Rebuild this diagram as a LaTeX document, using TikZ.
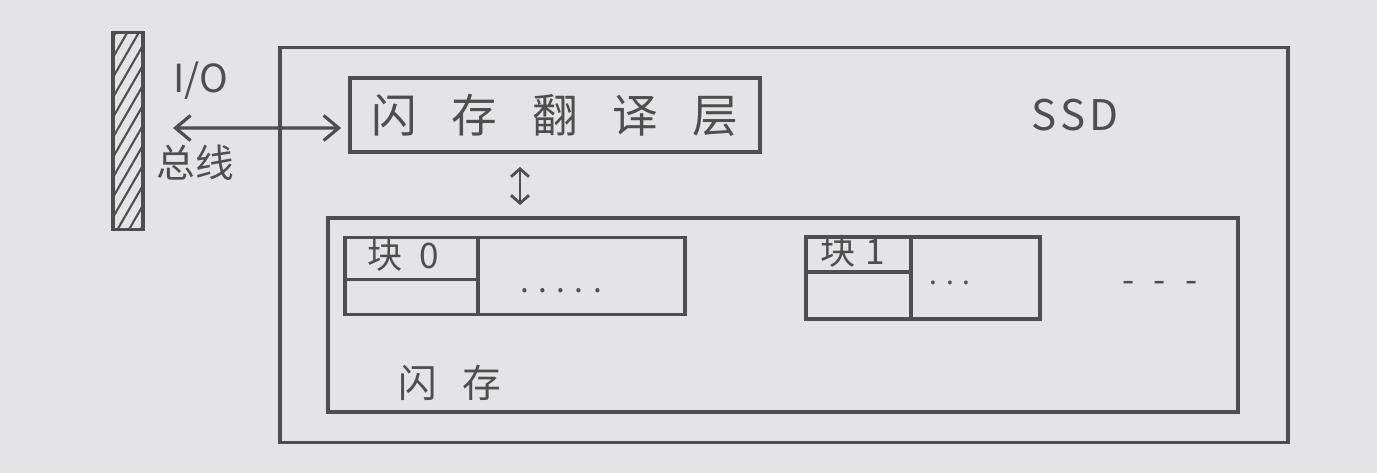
\documentclass[tikz,border=0pt]{standalone}
\usepackage{fontspec}
\setmainfont{Noto Sans CJK SC}
\usetikzlibrary{positioning,arrows.meta,patterns.meta}
\definecolor{paper}{RGB}{228,228,230}
\definecolor{pencil}{RGB}{78,78,78}
\newcommand{\chgap}[1]{\hspace{#1}}
\tikzset {
    style box/.style={
        draw=pencil,
        line width=2.2pt,
        rectangle, % plain frame
        inner sep=0pt,
        align=center,
    },
    style line/.style={
        draw=pencil,
        line width=2.2pt,
    },
    style text/.style={
        text=pencil,
        inner sep=0pt,
    },
    style arrow/.style={
        draw=pencil,
        line width=1.8pt,
        arrows={Straight Barb[length=3mm,width=5mm]-Straight Barb[length=3mm,width=5mm]},
    },
    style arrow small/.style={
        draw=pencil,
        line width=1.6pt,
        arrows={Straight Barb[length=1.6mm,width=3.6mm]-Straight Barb[length=1.6mm,width=3.6mm]},
    },
}
\begin{document}
\begin{tikzpicture}
        [x=0.02cm, y=-0.02cm, font=\fontsize{20}{24}\selectfont]

        \fill[paper] (0,0) rectangle (1377,473);

        % bus
        \node[style box, minimum width=0.6cm, minimum height=3.94cm,
            pattern={Lines[angle=60,distance=0.2cm,line width=1.2pt]}, pattern color=pencil] (bus) at (128,131) {};
        \node[style text, font=\fontsize{22}{26}\selectfont] (io) at (201,81) {I/O};
        \node[style text, font=\fontsize{22}{26}\selectfont] (bustext) at (195,163) {总线};

        % SSD
        \node[style box, minimum width=20.16cm, minimum height=7.9cm] (ssd) at (784,245) {};
        \node[style text, font=\fontsize{24}{28}\selectfont] (ssdtext) at (1075,115) {S\chgap{0.08cm}S\chgap{0.08cm}D};

        \node[style box, minimum width=8.2cm, minimum height=1.48cm, text=pencil,
            font=\fontsize{26}{30}\selectfont] (ftl) at (555,115)
            {闪\chgap{0.69cm}存\chgap{0.69cm}翻\chgap{0.69cm}译\chgap{0.69cm}层};

        % flash
        \node[style box, minimum width=18.2cm, minimum height=3.88cm] (flash) at (783,315) {};
        \node[style text, font=\fontsize{22}{26}\selectfont] (flashtext) at (450,383) {闪\chgap{0.52cm}存};

        \node[style box, minimum width=6.8cm, minimum height=1.54cm] (blk0) at (515,276) {};
        \node[style box, minimum width=4.68cm, minimum height=1.64cm] (blk1) at (923,278) {};

        \draw[style line] ([xshift=2.7cm]blk0.north west) -- ([xshift=2.7cm]blk0.south west);
        \draw[style line] ([yshift=-0.88cm]blk0.north west) -- ([xshift=2.7cm, yshift=-0.88cm]blk0.north west);
        \draw[style line] ([xshift=2.14cm]blk1.north west) -- ([xshift=2.14cm]blk1.south west);
        \draw[style line] ([yshift=-0.74cm]blk1.north west) -- ([xshift=2.14cm, yshift=-0.74cm]blk1.north west);

        \node[style text] (blk0text) at ([xshift=1.2cm, yshift=-0.4cm]blk0.north west) {块\chgap{0.35cm}0};
        \node[style text] (blk1text) at ([xshift=0.98cm, yshift=-0.32cm]blk1.north west) {块\chgap{0.2cm}1};

        \node[style text, anchor=base, font=\fontsize{18}{22}\selectfont] (dots0) at (561,292) {. . . . .};
        \node[style text, anchor=base, font=\fontsize{16}{20}\selectfont] (dots1) at (950,284) {. . .};
        \node[style text, font=\fontsize{20}{24}\selectfont] (dashes) at (1160,287) {-\chgap{0.38cm}-\chgap{0.38cm}-};

        \draw[style arrow, shorten <=0.58cm, shorten >=0.14cm] ([yshift=0.06cm]bus.east) -- ([yshift=-0.26cm]ftl.west);
        \draw[style arrow small, shorten <=0.26cm, shorten >=0.22cm]
            ([xshift=-0.7cm]ftl.south) -- ([xshift=-0.7cm]ftl.south |- flash.north);
    \end{tikzpicture}
\end{document}
